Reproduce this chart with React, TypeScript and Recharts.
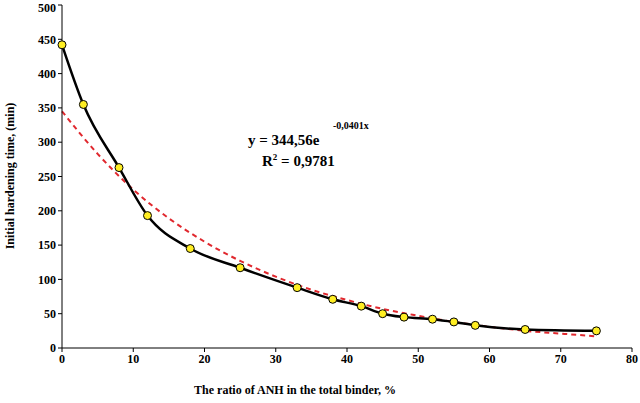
import React from 'react';
import { LineChart, Line, XAxis, YAxis } from 'recharts';

// measured points
const ratioX = [0, 3, 8, 12, 18, 25, 33, 38, 42, 45, 48, 52, 55, 58, 65, 75];
const hardeningTime = [442, 355, 263, 193, 145, 117, 88, 71, 61, 50, 45, 42, 38, 33, 27, 25];

// exponential trend line
const trendX = [0, 5, 10, 15, 20, 25, 30, 35, 40, 45, 50, 55, 60, 65, 70, 75];
const trendY = [345, 283, 231, 189, 155, 127, 104, 85, 70, 57, 47, 38, 31, 25, 21, 17];

const xTicks = [0, 10, 20, 30, 40, 50, 60, 70, 80];
const yTicks = [0, 50, 100, 150, 200, 250, 300, 350, 400, 450, 500];

const measured = ratioX.map((x, i) => ({ x, y: hardeningTime[i] }));
const trend = trendX.map((x, i) => ({ x, t: trendY[i] }));

const font = '"Liberation Serif", "Times New Roman", serif';
const tickStyle = { fontFamily: font, fontWeight: 700, fontSize: 12, fill: '#000' };

export default function App() {
  return (
    <div style={{ position: 'absolute', left: 0, top: 0, width: 640, height: 403, background: '#fff', fontFamily: font }}>
      <LineChart width={640} height={403} margin={{ top: 5, right: 8, left: 22, bottom: 25 }}>
        <XAxis
          type="number"
          dataKey="x"
          domain={[0, 80]}
          ticks={xTicks}
          stroke="#000"
          tickSize={4}
          tick={tickStyle}
          height={30}
          allowDuplicatedCategory={false}
        />
        <YAxis
          type="number"
          domain={[0, 500]}
          ticks={yTicks}
          stroke="#000"
          tickSize={4}
          tick={tickStyle}
          width={40}
        />
        <Line
          data={trend}
          dataKey="t"
          type="monotone"
          stroke="#e0282e"
          strokeWidth={2}
          strokeDasharray="5 4"
          dot={false}
          isAnimationActive={false}
        />
        <Line
          data={measured}
          dataKey="y"
          type="monotone"
          stroke="#000"
          strokeWidth={2.5}
          dot={{ r: 4, fill: '#ffee22', stroke: '#000', strokeWidth: 1 }}
          isAnimationActive={false}
        />
      </LineChart>
      <div style={{ position: 'absolute', left: 0, top: 0, width: 640, height: 403, pointerEvents: 'none', fontWeight: 700, color: '#000' }}>
        <div style={{ position: 'absolute', left: 248, top: 132, fontSize: 15 }}>y = 344,56e</div>
        <div style={{ position: 'absolute', left: 333, top: 120, fontSize: 10 }}>-0,0401x</div>
        <div style={{ position: 'absolute', left: 262, top: 152, fontSize: 15 }}>
          R<sup style={{ fontSize: 9 }}>2</sup> = 0,9781
        </div>
        <div style={{ position: 'absolute', left: 0, top: 383, width: 590, textAlign: 'center', fontSize: 12 }}>
          The ratio of ANH in the total binder, %
        </div>
        <div style={{ position: 'absolute', left: 10, top: 176, fontSize: 12, whiteSpace: 'nowrap', transform: 'translate(-50%, -50%) rotate(-90deg)', transformOrigin: 'center' }}>
          Initial hardening time, (min)
        </div>
      </div>
    </div>
  );
}
